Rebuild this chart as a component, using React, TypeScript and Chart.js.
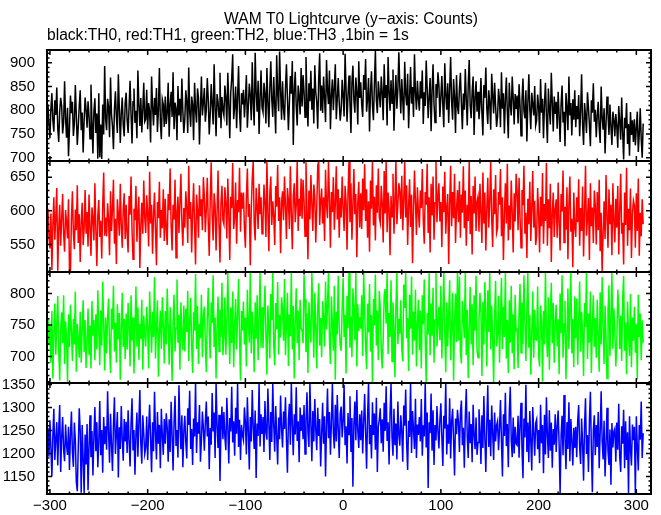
import React, { useEffect, useRef } from "react";
import { Chart, registerables } from "chart.js";

Chart.register(...registerables);

const TITLE = "WAM T0 Lightcurve (y\u2212axis: Counts)";
const SUBTITLE = "black:TH0, red:TH1, green:TH2, blue:TH3 ,1bin = 1s";

// time of the first 1 s bin, and the x-axis range / tick labels
const T_START = -302;
const X_MIN = -303;
const X_MAX = 315;
const X_TICKS = [-300, -200, -100, 0, 100, 200, 300];

// y tick labels per panel
const TICKS_TH0 = [700, 750, 800, 850, 900];
const TICKS_TH1 = [550, 600, 650];
const TICKS_TH2 = [700, 750, 800];
const TICKS_TH3 = [1150, 1200, 1250, 1300, 1350];

// counts per 1 s bin
const TH0 = [
  812, 768, 741, 803, 836, 779, 755, 821, 790, 848, 762, 733, 797, 826, 809, 751, 774, 861, 783, 742,
  805, 703, 760, 831, 794, 818, 746, 772, 853, 789, 727, 766, 810, 842, 758, 795, 711, 779, 827, 801,
  763, 819, 788, 740, 854, 776, 709, 798, 825, 752, 793, 698, 836, 701, 770, 697, 812, 749, 893, 781,
  758, 824, 807, 743, 869, 791, 766, 718, 802, 840, 785, 752, 876, 803, 731, 794, 827, 769, 745, 815,
  837, 779, 752, 808, 862, 791, 730, 818, 846, 773, 799, 741, 884, 812, 767, 826, 753, 800, 858, 776,
  781, 843, 760, 815, 797, 732, 871, 809, 768, 826, 790, 847, 754, 801, 889, 775, 739, 823, 812, 765,
  829, 771, 795, 858, 744, 812, 839, 786, 880, 760, 816, 803, 737, 851, 789, 824, 775, 867, 798, 752,
  781, 842, 819, 752, 890, 797, 765, 829, 812, 737, 858, 801, 774, 846, 826, 728, 803, 871, 789, 817,
  847, 776, 801, 868, 823, 749, 791, 855, 812, 770, 897, 806, 745, 834, 819, 786, 879, 762, 828, 801,
  789, 852, 826, 768, 879, 814, 741, 837, 867, 918, 781, 808, 850, 762, 829, 893, 797, 754, 836, 812,
  843, 785, 822, 874, 763, 809, 856, 831, 779, 901, 815, 768, 921, 838, 797, 862, 750, 827, 884, 806,
  796, 858, 835, 772, 889, 815, 764, 848, 903, 823, 786, 870, 809, 751, 916, 837, 798, 924, 842, 780,
  861, 803, 779, 846, 897, 826, 758, 815, 872, 835, 904, 727, 843, 881, 809, 768, 852, 829, 791, 889,
  808, 874, 839, 785, 912, 823, 766, 857, 819, 883, 801, 846, 772, 895, 838, 817, 761, 866, 920, 799,
  852, 794, 871, 826, 775, 906, 842, 813, 884, 760, 831, 865, 800, 849, 897, 781, 823, 868, 817, 778,
  801, 864, 829, 787, 919, 845, 776, 832, 873, 815, 752, 858, 894, 822, 795, 869, 837, 770, 903, 826,
  859, 812, 786, 874, 843, 908, 797, 825, 868, 755, 839, 882, 810, 779, 856, 926, 821, 794, 861, 833,
  806, 871, 838, 779, 897, 826, 853, 768, 912, 840, 799, 863, 815, 886, 757, 831, 874, 803, 845, 922,
  848, 793, 866, 821, 779, 902, 835, 810, 877, 762, 828, 891, 814, 849, 786, 918, 837, 801, 862, 823,
  799, 861, 825, 884, 771, 838, 809, 905, 846, 783, 829, 868, 756, 841, 897, 812, 774, 855, 826, 880,
  853, 786, 829, 872, 811, 764, 899, 834, 801, 857, 773, 845, 912, 818, 780, 866, 829, 752, 874, 808,
  792, 846, 879, 813, 760, 835, 801, 887, 822, 768, 854, 906, 810, 783, 839, 871, 748, 826, 861, 797,
  839, 781, 812, 868, 795, 747, 853, 826, 890, 804, 771, 842, 815, 759, 877, 831, 793, 858, 809, 765,
  786, 845, 820, 764, 880, 803, 836, 751, 824, 869, 797, 741, 858, 812, 789, 871, 826, 770, 834, 803,
  831, 772, 855, 810, 746, 821, 867, 798, 783, 842, 734, 815, 876, 803, 760, 837, 812, 789, 851, 768,
  779, 833, 808, 752, 866, 795, 824, 741, 813, 858, 787, 731, 846, 801, 770, 879, 816, 755, 829, 792,
  818, 761, 839, 790, 733, 812, 852, 774, 797, 724, 836, 805, 758, 871, 789, 815, 747, 823, 780, 842,
  764, 809, 781, 832, 745, 798, 876, 771, 727, 815, 790, 752, 838, 806, 769, 724, 821, 795, 857, 776,
  801, 743, 789, 818, 762, 731, 850, 786, 759, 804, 709, 773, 829, 791, 748, 812, 766, 727, 797, 781,
  745, 792, 766, 721, 809, 776, 738, 827, 753, 696, 784, 762, 815, 729, 771, 704, 796, 748, 779, 733,
  781, 726, 763, 797, 712, 750, 804, 739, 700, 772,
];

const TH1 = [
  603, 561, 544, 596, 512, 578, 620, 557, 591, 634, 511, 573, 609, 548, 587, 625, 566, 539, 601, 583,
  559, 617, 512, 510, 588, 629, 566, 543, 602, 571, 638, 552, 595, 524, 583, 612, 549, 575, 631, 566,
  598, 547, 624, 576, 533, 605, 589, 556, 641, 572, 518, 593, 616, 561, 585, 529, 608, 657, 563, 590,
  562, 611, 587, 534, 629, 570, 603, 646, 551, 588, 521, 617, 595, 563, 640, 578, 545, 603, 626, 558,
  609, 565, 538, 622, 594, 651, 571, 528, 603, 586, 637, 554, 598, 621, 515, 579, 612, 566, 645, 590,
  567, 623, 596, 547, 658, 581, 609, 536, 594, 627, 572, 519, 613, 589, 643, 560, 601, 574, 632, 555,
  618, 572, 549, 625, 601, 663, 578, 541, 609, 587, 646, 530, 598, 621, 567, 612, 655, 583, 548, 604,
  575, 629, 606, 552, 667, 588, 613, 538, 597, 641, 579, 520, 624, 601, 560, 638, 592, 617, 571, 650,
  621, 568, 603, 649, 582, 533, 615, 672, 594, 556, 626, 608, 541, 598, 660, 579, 523, 611, 637, 586,
  580, 635, 612, 559, 648, 596, 527, 621, 604, 671, 573, 590, 642, 551, 616, 598, 664, 569, 627, 603,
  627, 574, 545, 619, 663, 591, 610, 519, 602, 648, 674, 581, 556, 634, 607, 573, 640, 595, 620, 566,
  583, 639, 612, 561, 674, 597, 540, 626, 651, 579, 614, 593, 549, 637, 606, 668, 585, 620, 537, 612,
  629, 586, 651, 607, 558, 634, 615, 573, 666, 596, 543, 621, 641, 583, 608, 674, 570, 618, 592, 648,
  588, 646, 615, 562, 672, 601, 528, 630, 587, 653, 611, 570, 639, 622, 553, 604, 667, 674, 579, 615,
  633, 581, 620, 555, 661, 608, 589, 674, 617, 545, 628, 598, 650, 572, 611, 666, 587, 632, 560, 619,
  590, 651, 604, 570, 637, 614, 542, 626, 674, 583, 641, 557, 609, 662, 595, 625, 531, 612, 643, 575,
  626, 573, 648, 601, 669, 585, 632, 560, 614, 539, 645, 603, 674, 578, 621, 556, 638, 597, 663, 590,
  582, 637, 611, 553, 659, 596, 673, 568, 627, 603, 534, 622, 591, 655, 566, 614, 674, 580, 609, 641,
  629, 588, 652, 571, 615, 674, 590, 638, 549, 607, 647, 576, 624, 522, 601, 660, 613, 564, 635, 598,
  575, 630, 604, 662, 586, 551, 628, 609, 670, 567, 620, 538, 640, 593, 651, 557, 612, 674, 583, 621,
  641, 584, 613, 546, 636, 598, 658, 566, 604, 625, 521, 611, 667, 577, 628, 589, 655, 552, 602, 631,
  583, 644, 560, 624, 597, 666, 574, 630, 548, 609, 585, 674, 565, 622, 535, 637, 596, 651, 570, 613,
  621, 569, 640, 598, 552, 657, 581, 627, 541, 603, 649, 575, 614, 674, 588, 546, 632, 595, 653, 567,
  574, 628, 609, 662, 562, 620, 527, 593, 641, 581, 670, 556, 608, 572, 645, 597, 538, 626, 584, 655,
  629, 571, 649, 590, 545, 631, 608, 667, 566, 597, 530, 618, 580, 643, 555, 604, 659, 575, 615, 549,
  563, 634, 598, 538, 621, 577, 656, 551, 610, 585, 671, 548, 617, 574, 640, 524, 596, 627, 561, 603,
  617, 560, 642, 582, 541, 625, 599, 660, 553, 606, 572, 635, 528, 610, 651, 569, 588, 516, 627, 575,
  561, 620, 583, 647, 548, 604, 570, 636, 532, 598, 667, 563, 590, 619, 527, 641, 577, 605, 552, 630,
  607, 550, 628, 571, 646, 540, 597, 509, 566, 614, 558, 653, 588, 545, 632, 580, 609, 534, 641, 586,
  553, 618, 575, 637, 535, 601, 655, 566, 582, 520, 627, 579, 664, 548, 603, 571, 633, 530, 596, 615,
  608, 545, 626, 570, 648, 533, 597, 562, 617, 580,
];

const TH2 = [
  761, 718, 749, 690, 772, 665, 738, 784, 703, 752, 796, 712, 662, 745, 770, 721, 797, 688, 756, 731,
  660, 767, 715, 782, 741, 693, 760, 719, 803, 676, 752, 728, 698, 771, 690, 744, 789, 707, 758, 682,
  724, 776, 702, 749, 681, 788, 733, 758, 694, 767, 711, 805, 740, 686, 773, 717, 819, 751, 678, 762,
  705, 761, 792, 718, 674, 776, 743, 812, 708, 754, 690, 783, 727, 769, 663, 747, 801, 715, 760, 696,
  768, 711, 785, 746, 684, 797, 725, 762, 673, 741, 811, 716, 778, 695, 752, 728, 790, 679, 765, 734,
  716, 779, 744, 681, 803, 752, 706, 771, 731, 826, 697, 748, 789, 668, 741, 773, 712, 794, 752, 689,
  772, 719, 808, 749, 687, 778, 736, 661, 757, 798, 708, 745, 822, 722, 766, 679, 786, 733, 710, 781,
  708, 776, 739, 804, 693, 754, 793, 718, 674, 770, 741, 831, 712, 780, 688, 752, 729, 798, 699, 765,
  779, 722, 675, 763, 809, 740, 697, 786, 753, 829, 715, 762, 665, 748, 795, 708, 774, 731, 817, 702,
  730, 794, 703, 757, 834, 744, 688, 778, 721, 803, 683, 750, 791, 711, 764, 823, 733, 662, 772, 741,
  787, 719, 762, 684, 806, 751, 722, 834, 705, 771, 742, 675, 786, 728, 797, 694, 760, 834, 714, 778,
  713, 770, 812, 735, 671, 781, 749, 697, 799, 758, 834, 718, 686, 785, 743, 818, 703, 766, 730, 794,
  776, 725, 823, 702, 751, 801, 685, 767, 732, 834, 711, 780, 665, 757, 808, 721, 773, 694, 790, 745,
  741, 721, 829, 791, 707, 768, 674, 786, 744, 722, 834, 763, 698, 801, 750, 681, 777, 816, 717, 761,
  699, 788, 761, 716, 819, 743, 780, 834, 727, 688, 795, 752, 709, 812, 663, 771, 735, 828, 746, 718,
  709, 778, 824, 731, 766, 673, 796, 745, 834, 714, 764, 699, 808, 775, 726, 834, 684, 783, 740, 762,
  744, 797, 701, 834, 771, 720, 680, 784, 738, 815, 708, 766, 658, 791, 749, 830, 717, 773, 694, 804,
  776, 712, 681, 729, 798, 807, 752, 834, 704, 769, 731, 821, 692, 786, 745, 667, 779, 834, 720, 760,
  736, 789, 713, 692, 814, 777, 834, 729, 761, 677, 798, 744, 827, 703, 771, 725, 806, 684, 752, 790,
  710, 773, 681, 797, 751, 822, 727, 659, 769, 735, 834, 702, 784, 733, 809, 690, 758, 834, 716, 754,
  779, 726, 812, 697, 763, 834, 738, 675, 786, 716, 767, 821, 694, 748, 801, 662, 758, 800, 723, 834,
  725, 827, 708, 689, 788, 761, 729, 834, 702, 774, 666, 745, 810, 719, 783, 686, 797, 741, 828, 710,
  698, 758, 801, 770, 669, 787, 719, 818, 762, 684, 805, 739, 834, 711, 781, 730, 659, 764, 820, 716,
  734, 796, 690, 763, 825, 712, 779, 731, 834, 697, 758, 674, 789, 722, 812, 705, 767, 680, 798, 741,
  743, 682, 770, 815, 706, 786, 720, 829, 752, 693, 779, 834, 714, 766, 671, 738, 803, 698, 774, 727,
  726, 811, 703, 684, 781, 758, 660, 772, 719, 834, 740, 699, 794, 679, 766, 817, 721, 785, 690, 753,
  782, 716, 759, 672, 800, 737, 829, 698, 751, 788, 664, 729, 808, 712, 776, 834, 705, 760, 683, 795,
  729, 792, 687, 756, 819, 708, 771, 738, 669, 785, 747, 834, 696, 768, 722, 803, 674, 750, 797, 715,
  761, 698, 790, 734, 676, 802, 719, 826, 748, 688, 781, 727, 665, 772, 813, 701, 757, 834, 712, 776,
  740, 684, 721, 806, 778, 712, 765, 693, 791, 828, 709, 754, 672, 787, 735, 701, 799, 683, 762, 725,
  779, 706, 752, 664, 798, 731, 768, 694, 757, 722,
];

const TH3 = [
  1256, 1193, 1272, 1211, 1150, 1240, 1297, 1186, 1231, 1268, 1174, 1252, 1305, 1160, 1235, 1279, 1207, 1183, 1263, 1218,
  1197, 1258, 1164, 1240, 1291, 1203, 1171, 1267, 1229, 1138, 1118, 1215, 1298, 1249, 1115, 1262, 1188, 1114, 1241, 1176,
  1264, 1120, 1213, 1283, 1192, 1249, 1152, 1236, 1301, 1205, 1268, 1170, 1227, 1314, 1196, 1251, 1158, 1279, 1220, 1259,
  1208, 1335, 1247, 1180, 1286, 1219, 1162, 1263, 1322, 1199, 1243, 1290, 1148, 1257, 1210, 1303, 1231, 1184, 1275, 1226,
  1269, 1201, 1294, 1227, 1172, 1265, 1320, 1208, 1251, 1154, 1242, 1289, 1193, 1267, 1338, 1220, 1178, 1283, 1244, 1199,
  1212, 1280, 1186, 1253, 1306, 1231, 1159, 1268, 1205, 1334, 1246, 1187, 1290, 1221, 1262, 1168, 1297, 1239, 1197, 1275,
  1221, 1287, 1256, 1182, 1274, 1203, 1312, 1240, 1163, 1266, 1325, 1218, 1251, 1191, 1348, 1262, 1209, 1283, 1170, 1247,
  1282, 1225, 1189, 1298, 1262, 1336, 1210, 1253, 1175, 1276, 1237, 1353, 1201, 1268, 1243, 1305, 1182, 1229, 1291, 1255,
  1206, 1268, 1313, 1237, 1280, 1166, 1255, 1219, 1331, 1248, 1289, 1190, 1353, 1263, 1212, 1284, 1140, 1252, 1302, 1231,
  1290, 1236, 1207, 1321, 1259, 1178, 1277, 1248, 1345, 1224, 1270, 1195, 1299, 1243, 1353, 1214, 1273, 1186, 1262, 1240,
  1229, 1300, 1268, 1198, 1322, 1250, 1165, 1279, 1226, 1338, 1258, 1210, 1293, 1147, 1265, 1238, 1353, 1215, 1285, 1244,
  1279, 1203, 1314, 1246, 1230, 1341, 1267, 1186, 1290, 1225, 1353, 1262, 1204, 1303, 1240, 1176, 1278, 1231, 1326, 1254,
  1213, 1291, 1253, 1322, 1232, 1158, 1273, 1308, 1219, 1353, 1262, 1196, 1285, 1241, 1344, 1227, 1270, 1181, 1300, 1249,
  1284, 1231, 1305, 1199, 1270, 1333, 1244, 1214, 1353, 1264, 1183, 1292, 1226, 1318, 1251, 1207, 1299, 1238, 1275, 1172,
  1240, 1310, 1221, 1281, 1150, 1262, 1341, 1233, 1290, 1197, 1268, 1353, 1245, 1211, 1306, 1226, 1327, 1252, 1190, 1286,
  1302, 1235, 1270, 1349, 1218, 1259, 1178, 1288, 1241, 1324, 1203, 1277, 1128, 1264, 1313, 1229, 1338, 1250, 1212, 1285,
  1229, 1293, 1200, 1268, 1329, 1246, 1167, 1279, 1353, 1220, 1262, 1189, 1311, 1240, 1287, 1208, 1321, 1160, 1258, 1274,
  1298, 1222, 1274, 1204, 1310, 1249, 1346, 1227, 1268, 1176, 1286, 1353, 1236, 1195, 1297, 1218, 1265, 1187, 1313, 1241,
  1217, 1283, 1248, 1182, 1304, 1260, 1339, 1221, 1164, 1271, 1236, 1353, 1201, 1292, 1252, 1210, 1319, 1190, 1263, 1240,
  1279, 1226, 1318, 1195, 1261, 1237, 1353, 1213, 1289, 1125, 1268, 1244, 1330, 1206, 1294, 1175, 1262, 1228, 1303, 1250,
  1211, 1272, 1309, 1236, 1173, 1282, 1254, 1353, 1198, 1263, 1221, 1320, 1189, 1270, 1297, 1229, 1152, 1276, 1242, 1295,
  1268, 1203, 1287, 1315, 1218, 1256, 1169, 1279, 1340, 1235, 1190, 1291, 1222, 1264, 1181, 1306, 1240, 1209, 1278, 1197,
  1224, 1296, 1251, 1177, 1283, 1212, 1325, 1233, 1160, 1266, 1348, 1214, 1273, 1194, 1304, 1245, 1186, 1289, 1226, 1261,
  1270, 1207, 1255, 1316, 1226, 1150, 1285, 1238, 1332, 1216, 1264, 1170, 1289, 1345, 1230, 1192, 1278, 1200, 1258, 1221,
  1218, 1282, 1191, 1262, 1310, 1210, 1146, 1276, 1235, 1349, 1203, 1267, 1181, 1292, 1227, 1163, 1301, 1247, 1195, 1266,
  1274, 1209, 1251, 1179, 1306, 1222, 1262, 1157, 1284, 1198, 1322, 1240, 1190, 1294, 1206, 1267, 1169, 1253, 1219, 1285,
  1203, 1260, 1293, 1219, 1114, 1238, 1282, 1196, 1327, 1234, 1166, 1268, 1210, 1311, 1183, 1275, 1229, 1174, 1256, 1212,
  1258, 1192, 1271, 1305, 1213, 1177, 1276, 1222, 1141, 1262, 1320, 1199, 1240, 1160, 1273, 1334, 1208, 1116, 1251, 1283,
  1196, 1262, 1214, 1290, 1168, 1246, 1335, 1228, 1187, 1271, 1150, 1219, 1299, 1205, 1175, 1252, 1132, 1266, 1213, 1248,
  1254, 1182, 1267, 1208, 1308, 1193, 1160, 1259, 1221, 1295, 1168, 1270, 1186, 1246, 1112, 1281, 1210, 1174, 1263, 1229,
  1258, 1113, 1281, 1214, 1163, 1262, 1230, 1313, 1190, 1244,
];

const PANELS = [
  { id: "y0", data: TH0, color: "#000000", min: 693, max: 927, ticks: TICKS_TH0 },
  { id: "y1", data: TH1, color: "#ff0000", min: 509, max: 674, ticks: TICKS_TH1 },
  { id: "y2", data: TH2, color: "#00ff00", min: 658, max: 834, ticks: TICKS_TH2 },
  { id: "y3", data: TH3, color: "#0000ff", min: 1112, max: 1353, ticks: TICKS_TH3 },
];

const FONT = "'Liberation Sans', Arial, Helvetica, sans-serif";

const fmt = (v: number) => (v < 0 ? "\u2212" + Math.abs(v) : String(v));

const framePlugin = {
  id: "frames",
  afterDatasetsDraw(chart: any) {
    const ctx = chart.ctx;
    const xs = chart.scales.x;
    ctx.save();
    ctx.strokeStyle = "#000";
    PANELS.forEach((p) => {
      const ys = chart.scales[p.id];
      const L = xs.left;
      const R = xs.right;
      const T = ys.top;
      const B = ys.bottom;
      ctx.lineWidth = 1.5;
      ctx.beginPath();
      for (let v = Math.ceil(X_MIN / 20) * 20; v <= X_MAX; v += 20) {
        const px = xs.getPixelForValue(v);
        const len = v % 100 === 0 ? 5 : 2.5;
        ctx.moveTo(px, B);
        ctx.lineTo(px, B - len);
        ctx.moveTo(px, T);
        ctx.lineTo(px, T + len);
      }
      for (let v = Math.ceil(p.min / 10) * 10; v <= p.max; v += 10) {
        const py = ys.getPixelForValue(v);
        const len = v % 50 === 0 ? 5 : 2.5;
        ctx.moveTo(L, py);
        ctx.lineTo(L + len, py);
        ctx.moveTo(R, py);
        ctx.lineTo(R - len, py);
      }
      ctx.stroke();
      ctx.lineWidth = 2;
      ctx.strokeRect(L, T, R - L, B - T);
    });
    ctx.restore();
  },
};

const titlePlugin = {
  id: "titles",
  afterDraw(chart: any) {
    const ctx = chart.ctx;
    const a = chart.chartArea;
    ctx.save();
    ctx.fillStyle = "#000";
    ctx.font = `15.6px ${FONT}`;
    ctx.textBaseline = "alphabetic";
    ctx.textAlign = "center";
    ctx.fillText(TITLE, (a.left + a.right) / 2 + 2, 24);
    ctx.textAlign = "left";
    ctx.fillText(SUBTITLE, a.left, 40);
    ctx.restore();
  },
};

export default function App() {
  const ref = useRef<HTMLCanvasElement | null>(null);

  useEffect(() => {
    if (!ref.current) return;
    const scales: any = {
      x: {
        type: "linear",
        position: "bottom",
        min: X_MIN,
        max: X_MAX,
        grid: { display: false, drawTicks: false },
        border: { display: false },
        afterBuildTicks: (s: any) => {
          s.ticks = X_TICKS.map((v) => ({ value: v }));
        },
        afterFit: (s: any) => {
          s.height = 20;
        },
        ticks: {
          color: "#000",
          font: { family: FONT, size: 15 },
          padding: 3,
          maxRotation: 0,
          autoSkip: false,
          callback: (v: any) => fmt(Number(v)),
        },
      },
    };
    PANELS.forEach((p, i) => {
      scales[p.id] = {
        type: "linear",
        position: "left",
        stack: "panels",
        stackWeight: 1,
        weight: PANELS.length - i,
        offset: false,
        min: p.min,
        max: p.max,
        grid: { display: false, drawTicks: false },
        border: { display: false },
        afterBuildTicks: (s: any) => {
          s.ticks = p.ticks.map((v) => ({ value: v }));
        },
        afterFit: (s: any) => {
          s.width = 47;
        },
        ticks: {
          color: "#000",
          font: { family: FONT, size: 15 },
          padding: 12,
          autoSkip: false,
          callback: (v: any) => fmt(Number(v)),
        },
      };
    });

    const chart = new Chart(ref.current, {
      type: "line",
      data: {
        datasets: PANELS.map((p) => ({
          data: p.data.map((y, k) => ({ x: T_START + k, y })),
          borderColor: p.color,
          backgroundColor: p.color,
          borderWidth: 1.5,
          pointRadius: 0,
          tension: 0,
          fill: false,
          xAxisID: "x",
          yAxisID: p.id,
        })),
      },
      options: {
        animation: false,
        responsive: false,
        devicePixelRatio: 1,
        parsing: false,
        normalized: true,
        layout: { padding: { left: 0, right: 10, top: 50, bottom: 0 } },
        plugins: {
          legend: { display: false },
          tooltip: { enabled: false },
          title: { display: false },
        },
        scales,
      },
      plugins: [framePlugin, titlePlugin],
    });
    return () => chart.destroy();
  }, []);

  return (
    <div style={{ position: "absolute", left: 0, top: 0, width: 661, height: 515, background: "#fff" }}>
      <canvas ref={ref} width={661} height={515} style={{ display: "block" }} />
    </div>
  );
}
